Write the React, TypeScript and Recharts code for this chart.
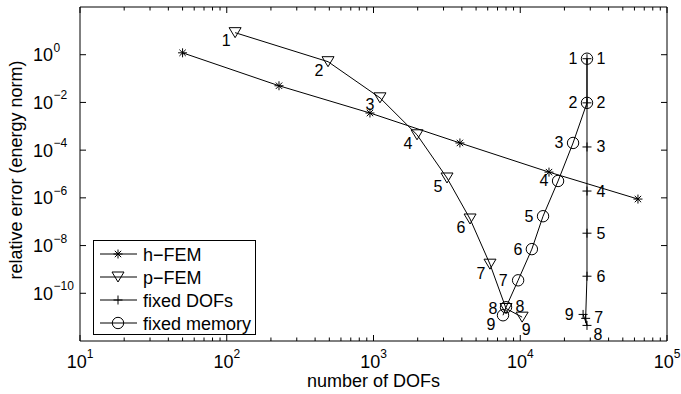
import { ScatterChart, Scatter, XAxis, YAxis, Legend } from 'recharts';

const FONT = '"Liberation Sans", Arial, Helvetica, sans-serif';

// h-FEM (uniform refinement)
const hDofs = [50, 227, 946, 3880, 15700, 63400];
const hErr = [1.2, 0.05, 3.6e-3, 2.0e-4, 1.2e-5, 8.9e-7];

// p-FEM, degree 1..9
const pDofs = [114, 490, 1107, 1980, 3170, 4550, 6220, 8000, 10300];
const pErr = [8.4, 0.51, 0.0156, 4.4e-4, 6.8e-6, 1.3e-7, 1.66e-9, 2.3e-11, 1.0e-11];

// fixed DOFs
const fdDofs = [28500, 28500, 28500, 28500, 28500, 28500, 27900, 28500, 26800];
const fdErr = [0.68, 9.6e-3, 1.36e-4, 1.93e-6, 3.3e-8, 5.2e-10, 8.9e-12, 4.5e-12, 1.3e-11];

// fixed memory
const fmDofs = [28500, 28500, 22900, 18100, 14300, 12000, 9670, 8000, 7630];
const fmErr = [0.68, 9.6e-3, 2.0e-4, 5.1e-6, 1.7e-7, 7.1e-9, 3.5e-10, 2.6e-11, 1.2e-11];

const xMajor = [10, 100, 1000, 10000, 100000];
const yMajor = [1e-10, 1e-8, 1e-6, 1e-4, 1e-2, 1];

const seriesNames = ['h\u2212FEM', 'p\u2212FEM', 'fixed DOFs', 'fixed memory'];

// where the iteration numbers sit relative to each marker
const pLabelOff = [[-9, 8], [-9, 9], [-10, 7], [-9, 9], [-9, 9], [-9, 9], [-9, 9], [14, -2], [4, 12]];
const fdLabelOff = [[14, 0], [14, 0], [14, 0], [14, 0], [14, 0], [14, 0], [13, -1], [11, 9], [-14, 0]];
const fmLabelOff = [[-14, 0], [-14, 0], [-14, 0], [-14, 0], [-14, 0], [-14, 0], [-15, 0], [-13, 1], [-12, 9]];

const xMinor = xMajor.slice(0, -1).flatMap((d) => [2, 3, 4, 5, 6, 7, 8, 9].map((k) => d * k));
const xTicks = [...xMajor, ...xMinor].sort((a, b) => a - b);

const build = (xs: number[], ys: number[], offs?: number[][]) =>
  xs.map((x, i) => ({ x, y: ys[i], n: i + 1, dx: offs ? offs[i][0] : 0, dy: offs ? offs[i][1] : 0 }));

const hData = build(hDofs, hErr);
const pData = build(pDofs, pErr, pLabelOff);
const fdData = build(fdDofs, fdErr, fdLabelOff);
const fmData = build(fmDofs, fmErr, fmLabelOff);

type Kind = 'star' | 'tri' | 'plus' | 'circle';

function Marker({ kind, cx, cy }: { kind: Kind; cx: number; cy: number }) {
  const s = { stroke: '#000', strokeWidth: 1, fill: 'none' };
  if (kind === 'star') {
    return (
      <g {...s}>
        <line x1={cx - 4.5} y1={cy} x2={cx + 4.5} y2={cy} />
        <line x1={cx} y1={cy - 4.5} x2={cx} y2={cy + 4.5} />
        <line x1={cx - 3.2} y1={cy - 3.2} x2={cx + 3.2} y2={cy + 3.2} />
        <line x1={cx - 3.2} y1={cy + 3.2} x2={cx + 3.2} y2={cy - 3.2} />
      </g>
    );
  }
  if (kind === 'tri') {
    return <polygon {...s} points={`${cx - 6},${cy - 5} ${cx + 6},${cy - 5} ${cx},${cy + 5}`} />;
  }
  if (kind === 'plus') {
    return (
      <g {...s}>
        <line x1={cx - 4.5} y1={cy} x2={cx + 4.5} y2={cy} />
        <line x1={cx} y1={cy - 4.5} x2={cx} y2={cy + 4.5} />
      </g>
    );
  }
  return <circle {...s} cx={cx} cy={cy} r={5.7} />;
}

const shape = (kind: Kind, numbered: boolean) => (props: any) => {
  const { cx, cy, payload } = props;
  return (
    <g>
      <Marker kind={kind} cx={cx} cy={cy} />
      {numbered && (
        <text
          x={cx + payload.dx}
          y={cy + payload.dy + 5.5}
          textAnchor="middle"
          fontSize={16}
          fontFamily={FONT}
          fill="#000"
        >
          {payload.n}
        </text>
      )}
    </g>
  );
};

const isMajor = (v: number) => Math.abs(Math.log10(v) - Math.round(Math.log10(v))) < 1e-9;

function BottomTick(props: any) {
  const { x, y, payload } = props;
  const major = isMajor(payload.value);
  return (
    <g>
      <line x1={x} y1={y} x2={x} y2={y - (major ? 6 : 3.5)} stroke="#000" strokeWidth={1} />
      {major && (
        <text x={x} y={y + 27} textAnchor="middle" fontFamily={FONT} fill="#000">
          <tspan fontSize={18}>10</tspan>
          <tspan fontSize={12} dy={-10}>{Math.round(Math.log10(payload.value))}</tspan>
        </text>
      )}
    </g>
  );
}

function TopTick(props: any) {
  const { x, y, payload } = props;
  const major = isMajor(payload.value);
  return <line x1={x} y1={y} x2={x} y2={y + (major ? 6 : 3.5)} stroke="#000" strokeWidth={1} />;
}

function LeftTick(props: any) {
  const { x, y, payload } = props;
  const e = Math.round(Math.log10(payload.value));
  return (
    <g>
      <line x1={x} y1={y} x2={x + 6} y2={y} stroke="#000" strokeWidth={1} />
      <text x={x - 27} y={y + 6.5} textAnchor="end" fontSize={18} fontFamily={FONT} fill="#000">
        10
      </text>
      <text x={x - 26.5} y={y - 3} textAnchor="start" fontSize={12} fontFamily={FONT} fill="#000">
        {e < 0 ? `\u2212${-e}` : `${e}`}
      </text>
    </g>
  );
}

function RightTick(props: any) {
  const { x, y } = props;
  return <line x1={x} y1={y} x2={x - 6} y2={y} stroke="#000" strokeWidth={1} />;
}

function XLabel(props: any) {
  const vb = props.viewBox;
  return (
    <text x={vb.x + vb.width / 2} y={vb.y + 46} textAnchor="middle" fontSize={18} fontFamily={FONT} fill="#000">
      number of DOFs
    </text>
  );
}

function YLabel(props: any) {
  const vb = props.viewBox;
  const cx = vb.x + 22;
  const cy = vb.y + vb.height / 2 - 4;
  return (
    <text
      x={cx}
      y={cy}
      transform={`rotate(-90 ${cx} ${cy})`}
      textAnchor="middle"
      fontSize={18}
      fontFamily={FONT}
      fill="#000"
    >
      relative error (energy norm)
    </text>
  );
}

const legendKinds: Kind[] = ['star', 'tri', 'plus', 'circle'];

function LegendBox() {
  return (
    <svg width={163} height={95} style={{ display: 'block' }}>
      <rect x={0.5} y={0.5} width={162} height={94} fill="#fff" stroke="#000" strokeWidth={1} />
      {seriesNames.map((name, i) => {
        const cy = 14 + i * 23;
        return (
          <g key={name}>
            <line x1={7} y1={cy} x2={44} y2={cy} stroke="#000" strokeWidth={1} />
            <Marker kind={legendKinds[i]} cx={25} cy={cy} />
            <text x={50} y={cy + 6.5} fontSize={18} fontFamily={FONT} fill="#000">
              {name}
            </text>
          </g>
        );
      })}
    </svg>
  );
}

export default function App() {
  const line = { stroke: '#000', strokeWidth: 1 };
  return (
    <div style={{ position: 'absolute', left: 0, top: 0, width: 681, height: 394, background: '#fff' }}>
      <ScatterChart width={681} height={394} margin={{ top: 0, right: 0, bottom: 0, left: 0 }}>
        <XAxis
          xAxisId="b"
          dataKey="x"
          type="number"
          scale="log"
          domain={[10, 100000]}
          allowDataOverflow
          ticks={xTicks}
          interval={0}
          tickSize={0}
          tickMargin={0}
          tickLine={false}
          height={53}
          axisLine={{ stroke: '#000' }}
          tick={<BottomTick />}
          label={<XLabel />}
        />
        <XAxis
          xAxisId="t"
          orientation="top"
          dataKey="x"
          type="number"
          scale="log"
          domain={[10, 100000]}
          allowDataOverflow
          ticks={xTicks}
          interval={0}
          tickSize={0}
          tickMargin={0}
          tickLine={false}
          height={7}
          axisLine={{ stroke: '#000' }}
          tick={<TopTick />}
        />
        <YAxis
          yAxisId="l"
          dataKey="y"
          type="number"
          scale="log"
          domain={[1e-12, 100]}
          allowDataOverflow
          ticks={yMajor}
          interval={0}
          tickSize={0}
          tickMargin={0}
          tickLine={false}
          width={80}
          axisLine={{ stroke: '#000' }}
          tick={<LeftTick />}
          label={<YLabel />}
        />
        <YAxis
          yAxisId="r"
          orientation="right"
          dataKey="y"
          type="number"
          scale="log"
          domain={[1e-12, 100]}
          allowDataOverflow
          ticks={yMajor}
          interval={0}
          tickSize={0}
          tickMargin={0}
          tickLine={false}
          width={14}
          axisLine={{ stroke: '#000' }}
          tick={<RightTick />}
        />
        <Legend
          layout="vertical"
          verticalAlign="middle"
          align="center"
          content={() => <LegendBox />}
          wrapperStyle={{ left: 93, top: 240, width: 163, height: 95 }}
        />
        <Scatter name={seriesNames[0]} xAxisId="b" yAxisId="l" data={hData} line={line} shape={shape('star', false)} isAnimationActive={false} />
        <Scatter name={seriesNames[1]} xAxisId="b" yAxisId="l" data={pData} line={line} shape={shape('tri', true)} isAnimationActive={false} />
        <Scatter name={seriesNames[2]} xAxisId="b" yAxisId="l" data={fdData} line={line} shape={shape('plus', true)} isAnimationActive={false} />
        <Scatter name={seriesNames[3]} xAxisId="b" yAxisId="l" data={fmData} line={line} shape={shape('circle', true)} isAnimationActive={false} />
      </ScatterChart>
    </div>
  );
}
